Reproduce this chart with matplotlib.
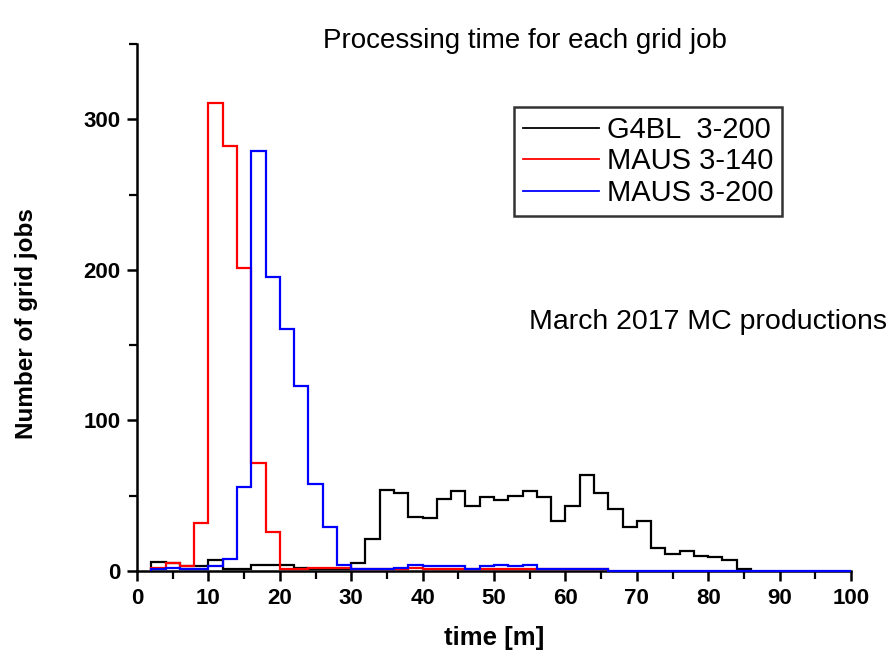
import numpy as np
import matplotlib
matplotlib.use('Agg')
import matplotlib.pyplot as plt
from matplotlib.ticker import MultipleLocator

plt.rcParams['font.family'] = ['Liberation Sans', 'DejaVu Sans']

# bin edges start at 2 minutes, 2 minute bins
g4bl_start = 2
g4bl_counts = [6, 5, 3, 3, 7, 1, 1, 4, 4, 4, 2, 1, 1, 1, 5, 21, 54, 52, 36, 35,
               48, 53, 43, 49, 47, 50, 53, 49, 33, 43, 64, 52, 41, 29, 33, 15, 11, 13, 10, 9,
               7, 1]
maus140_start = 2
maus140_counts = [2, 5, 3, 32, 311, 282, 201, 72, 26, 1, 1, 2, 2, 2, 1, 1, 1, 1, 2,
                  1, 1, 1, 1, 1, 1, 1, 1, 1, 1, 1, 1, 1]
maus200_start = 2
maus200_counts = [1, 2, 1, 1, 3, 8, 56, 279, 195, 161, 123, 58, 29, 4, 1,
                  1, 1, 2, 4, 3, 3, 3, 1, 3, 4, 3, 4, 1, 1, 1, 1, 1,
                  0, 0, 0, 0, 0, 0, 0, 0, 0, 0, 0, 0, 0, 0, 0, 0, 0]
bin_width = 2

labels = ['G4BL  3-200', 'MAUS 3-140', 'MAUS 3-200']
colors = ['black', 'red', 'blue']

fig = plt.figure(figsize=(8.91, 6.52), dpi=100)
ax = fig.add_axes([137 / 891, 1 - 571 / 652, 714 / 891, 527 / 652])

series = [(g4bl_start, g4bl_counts), (maus140_start, maus140_counts), (maus200_start, maus200_counts)]
for (start, counts), lab, col in zip(series, labels, colors):
    edges = start + bin_width * np.arange(len(counts) + 1)
    ax.stairs(counts, edges, color=col, lw=1.6, label=lab, clip_on=False, zorder=3)

ax.set_xlim(0, 100)
ax.set_ylim(0, 350)
ax.spines['top'].set_visible(False)
ax.spines['right'].set_visible(False)
for s in ['left', 'bottom']:
    ax.spines[s].set_linewidth(1.8)

ax.xaxis.set_major_locator(MultipleLocator(10))
ax.xaxis.set_minor_locator(MultipleLocator(5))
ax.yaxis.set_major_locator(MultipleLocator(100))
ax.yaxis.set_minor_locator(MultipleLocator(50))
ax.tick_params(which='major', direction='out', length=7, width=1.8, labelsize=16, pad=5)
ax.tick_params(which='minor', direction='out', length=6, width=1.6)
for t in ax.get_xticklabels() + ax.get_yticklabels():
    t.set_fontweight('bold')

ax.set_xlabel('time [m]', fontsize=18.5, fontweight='bold')
ax.xaxis.set_label_coords(0.5, -0.105)
ax.set_ylabel('Number of grid jobs', fontsize=17.5, fontweight='bold')
ax.yaxis.set_label_coords(-0.138, 0.47)

fig.text(525 / 891, 1 - 41 / 652, 'Processing time for each grid job', fontsize=20,
         ha='center', va='center')
fig.text(708 / 891, 1 - 322 / 652, 'March 2017 MC productions', fontsize=20.5,
         ha='center', va='center')

leg = ax.legend(loc='upper left', bbox_to_anchor=(514 / 891, 1 - 107 / 652),
                bbox_transform=fig.transFigure, fontsize=21, frameon=True, fancybox=False,
                handlelength=2.6, handletextpad=0.28, borderpad=0.3, labelspacing=0.12,
                borderaxespad=0)
leg.get_frame().set_edgecolor('black')
leg.get_frame().set_linewidth(1.8)
for h in leg.get_lines():
    h.set_linewidth(1.3)

fig.savefig('out.png', dpi=100)
